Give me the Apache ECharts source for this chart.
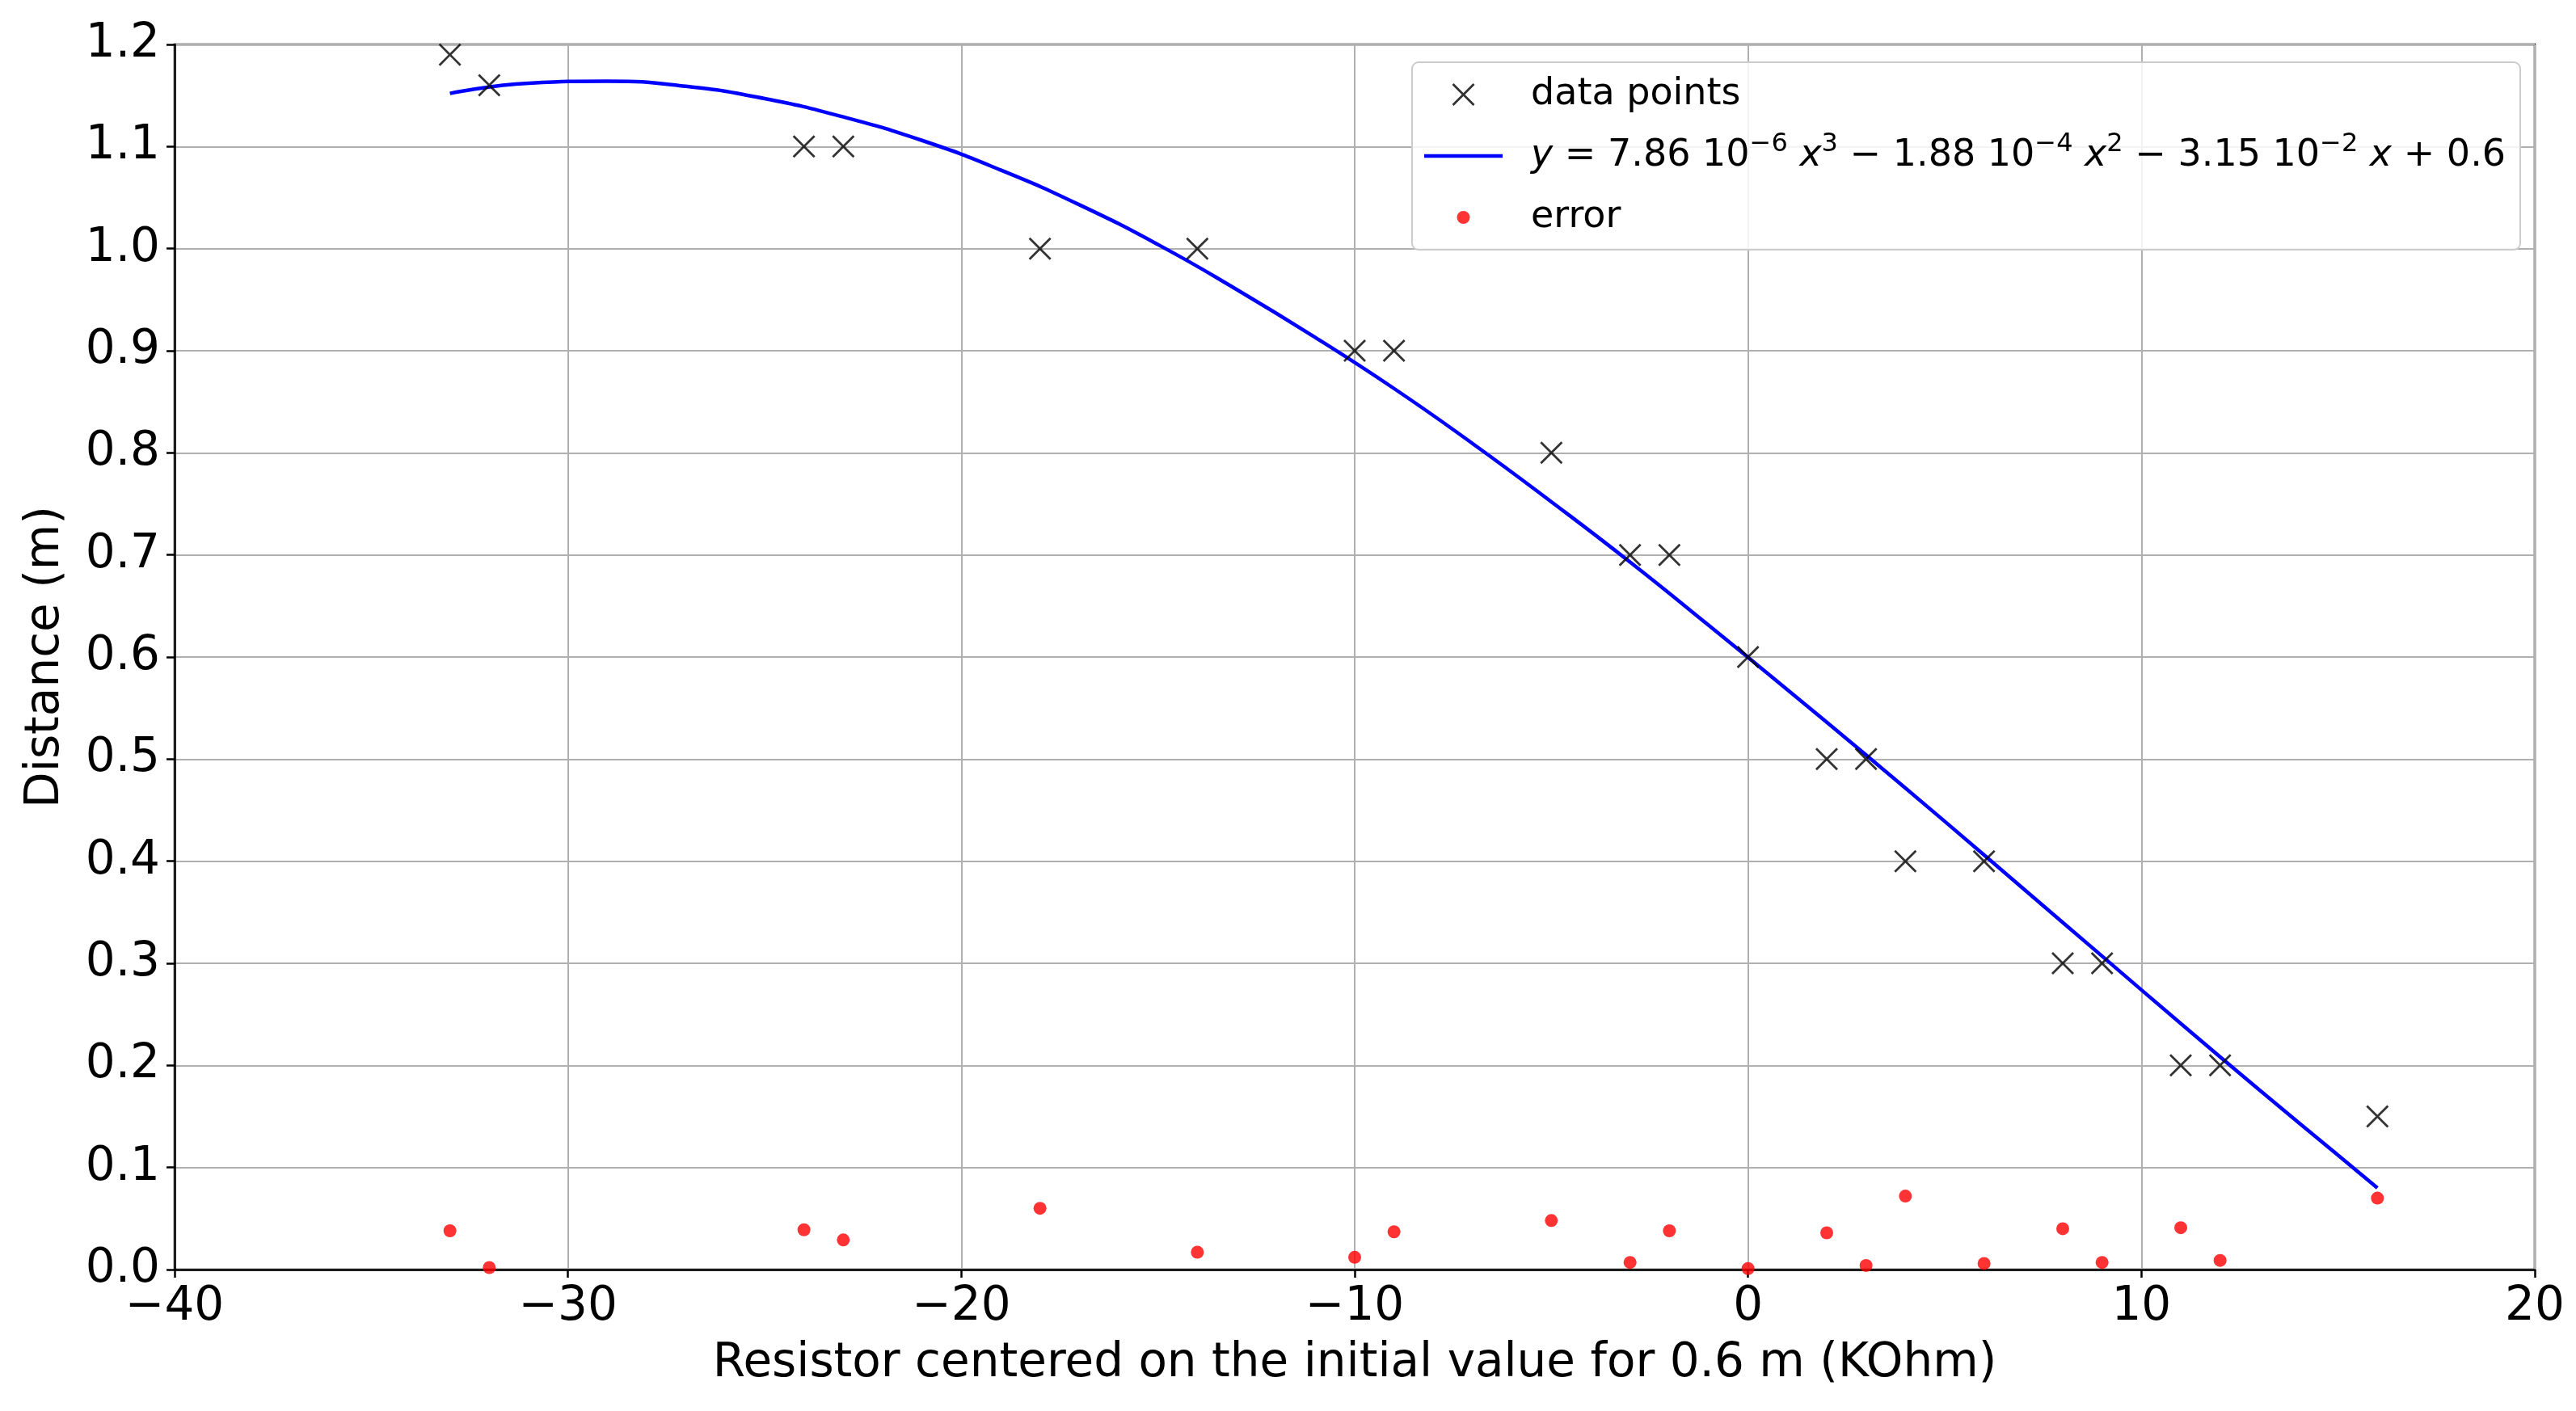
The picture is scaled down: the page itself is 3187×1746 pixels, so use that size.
<!DOCTYPE html>
<html>
<head>
<meta charset="utf-8">
<script src="https://cdn.jsdelivr.net/npm/echarts@6/dist/echarts.min.js"></script>
<style>html,body{margin:0;padding:0;background:#fff}#c{width:3187px;height:1746px}</style>
</head>
<body>
<div id="c"></div>
<script>
// measured data points (resistor offset, distance)
const dataX = [-33, -32, -24, -23, -18, -14, -10, -9, -5, -3, -2, 0, 2, 3, 4, 6, 8, 9, 11, 12, 16];
const dataY = [1.19, 1.16, 1.10, 1.10, 1.00, 1.00, 0.90, 0.90, 0.80, 0.70, 0.70, 0.60, 0.50, 0.50, 0.40, 0.40, 0.30, 0.30, 0.20, 0.20, 0.15];
// error values
const errorY = [0.038, 0.002, 0.039, 0.029, 0.060, 0.017, 0.012, 0.037, 0.048, 0.007, 0.038, 0.001, 0.036, 0.004, 0.072, 0.006, 0.040, 0.007, 0.041, 0.009, 0.070];
// fitted curve
const curveX = [-33, -31, -29, -27, -25, -23, -21, -19, -17, -15, -13, -11, -9, -7, -5, -3, -1, 1, 3, 5, 7, 9, 11, 13, 15, 16];
const curveY = [1.152, 1.162, 1.164, 1.159, 1.147, 1.129, 1.106, 1.077, 1.043, 1.004, 0.960, 0.913, 0.863, 0.809, 0.752, 0.693, 0.631, 0.568, 0.504, 0.439, 0.373, 0.307, 0.241, 0.176, 0.112, 0.080];
// tick settings
const xTicks = {min: -40, max: 20, interval: 10};
const yTicks = {min: 0, max: 1.2, interval: 0.1};

const FONT = 'DejaVu Sans';
const crossPath = 'path://M0,140L1,140ZM970,140L969,140ZM345,20L365,0L485,120L605,0L625,20L505,140L625,260L605,280L485,160L365,280L345,260L465,140Z';
const crossSymbol = 'path://M0,7L7,0L50,43L93,0L100,7L57,50L100,93L93,100L50,57L7,100L0,93L43,50Z';
const dotPath = 'path://M0,0L1,0ZM970,280L969,280ZM405,140A80,80 0 1,0 565,140A80,80 0 1,0 405,140Z';
const barPath = 'path://M0,0L1,0ZM0,280L1,280ZM0,118L970,118L970,162L0,162Z';

const chart = echarts.init(document.getElementById('c'));
const minus = v => String(v).replace('-', '\u2212');

chart.setOption({
  animation: false,
  backgroundColor: '#fff',
  grid: {left: 216, right: 51, top: 55, bottom: 175, show: true, borderColor: '#000', borderWidth: 2.5, backgroundColor: 'transparent'},
  xAxis: {
    type: 'value', min: xTicks.min, max: xTicks.max, interval: xTicks.interval,
    name: 'Resistor centered on the initial value for 0.6 m (KOhm)',
    nameLocation: 'middle', nameGap: 88,
    nameTextStyle: {fontFamily: FONT, fontSize: 58, color: '#000'},
    axisLine: {show: true, onZero: false, lineStyle: {color: '#000', width: 2.5}},
    axisTick: {show: true, length: 10, lineStyle: {color: '#000', width: 2.5}},
    axisLabel: {fontFamily: FONT, fontSize: 58, color: '#000', margin: 18, formatter: v => minus(v)},
    splitLine: {show: true, lineStyle: {color: '#b0b0b0', width: 2}}
  },
  yAxis: {
    type: 'value', min: yTicks.min, max: yTicks.max, interval: yTicks.interval,
    name: 'Distance (m)',
    nameLocation: 'middle', nameGap: 130,
    nameTextStyle: {fontFamily: FONT, fontSize: 58, color: '#000'},
    axisLine: {show: true, onZero: false, lineStyle: {color: '#000', width: 2.5}},
    axisTick: {show: true, length: 10, lineStyle: {color: '#000', width: 2.5}},
    axisLabel: {fontFamily: FONT, fontSize: 58, color: '#000', margin: 18, formatter: v => v.toFixed(1)},
    splitLine: {show: true, lineStyle: {color: '#b0b0b0', width: 2}}
  },
  legend: {
    orient: 'vertical', left: 1747, top: 77,
    padding: [10, 18, 10, 15],
    itemWidth: 97, itemHeight: 28, itemGap: 16,
    backgroundColor: 'rgba(255,255,255,0.85)',
    borderColor: '#cccccc', borderWidth: 2, borderRadius: 8,
    data: [
      {name: 'data points', icon: crossPath},
      {name: 'fit', icon: barPath},
      {name: 'error', icon: dotPath}
    ],
    formatter: function (name) {
      if (name === 'fit') {
        return '{i|y} = 7.86 10{s|\u22126} {i|x}{s|3} \u2212 1.88 10{s|\u22124} {i|x}{s|2} \u2212 3.15 10{s|\u22122} {i|x} + 0.6';
      }
      return name;
    },
    textStyle: {
      fontFamily: FONT, fontSize: 46, color: '#000', lineHeight: 60, padding: [0, 0, 0, 30],
      rich: {
        i: {fontFamily: FONT, fontSize: 46, fontStyle: 'italic', color: '#000', lineHeight: 60},
        s: {fontFamily: FONT, fontSize: 32, color: '#000', verticalAlign: 'top', lineHeight: 36}
      }
    }
  },
  series: [
    {
      name: 'data points', type: 'scatter',
      symbol: crossSymbol, symbolSize: 28,
      itemStyle: {color: '#000'},
      data: dataX.map((x, i) => [x, dataY[i]]),
      z: 5
    },
    {
      name: 'fit', type: 'line', smooth: true, symbol: 'none', showSymbol: false,
      lineStyle: {color: '#0000ff', width: 4.5},
      itemStyle: {color: '#0000ff'},
      data: curveX.map((x, i) => [x, curveY[i]]),
      z: 4
    },
    {
      name: 'error', type: 'scatter',
      symbol: 'circle', symbolSize: 16,
      itemStyle: {color: '#ff0000'},
      data: dataX.map((x, i) => [x, errorY[i]]),
      clip: false,
      z: 6
    }
  ]
});
</script>
</body>
</html>
